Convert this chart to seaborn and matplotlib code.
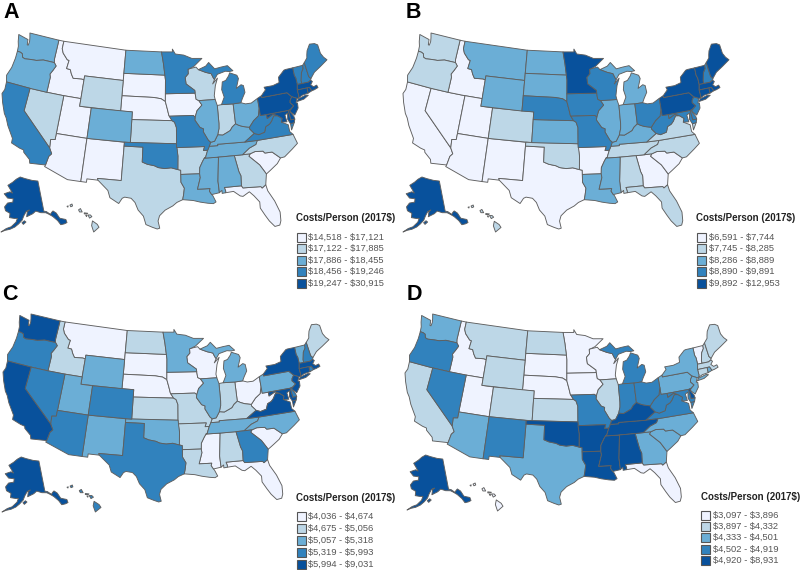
import numpy as np
import pandas as pd
import matplotlib
matplotlib.use('Agg')
import matplotlib.pyplot as plt
from matplotlib.patches import Rectangle
import seaborn as sns

# rough state outlines in lon/lat, each state is a list of rings
OUTLINES = {
    'WA': [[(-124.7,48.4),(-123.1,48.15),(-122.75,48.1),(-122.6,47.4),(-122.4,47.4),(-122.35,47.9),(-122.5,48.4),(-122.75,49.0),(-117.03,49.0),(-117.04,46.42),(-116.92,45.99),(-118.98,46.0),(-119.3,45.93),(-120.2,45.73),(-121.2,45.67),(-122.3,45.55),(-122.76,45.65),(-123.0,46.1),(-123.4,46.22),(-124.0,46.25),(-124.1,46.9),(-124.4,47.5)]],
    'OR': [[(-124.0,46.25),(-123.4,46.22),(-123.0,46.1),(-122.76,45.65),(-122.3,45.55),(-121.2,45.67),(-120.2,45.73),(-119.3,45.93),(-118.98,46.0),(-116.92,45.99),(-116.46,45.6),(-116.85,44.95),(-117.22,44.4),(-117.03,44.0),(-117.03,42.0),(-120.0,42.0),(-124.21,42.0),(-124.55,42.84),(-124.1,44.0),(-123.96,45.3)]],
    'CA': [[(-124.21,42.0),(-120.0,42.0),(-120.0,39.0),(-114.63,35.0),(-114.14,34.3),(-114.5,33.9),(-114.72,32.72),(-117.12,32.53),(-117.3,33.0),(-118.4,33.75),(-118.5,34.03),(-119.2,34.15),(-120.6,34.55),(-120.65,35.15),(-121.9,36.6),(-122.5,37.5),(-123.0,38.0),(-123.8,39.3),(-124.35,40.4),(-124.1,41.0)]],
    'NV': [[(-120.0,42.0),(-117.03,42.0),(-114.04,42.0),(-114.04,36.2),(-114.74,36.1),(-114.63,35.0),(-120.0,39.0)]],
    'ID': [[(-117.03,49.0),(-116.05,49.0),(-116.05,48.0),(-115.7,47.45),(-114.7,46.7),(-114.35,46.65),(-114.5,45.55),(-113.8,45.5),(-113.45,44.95),(-113.0,44.45),(-111.5,44.55),(-111.05,44.48),(-111.05,42.0),(-114.04,42.0),(-117.03,42.0),(-117.03,44.0),(-117.22,44.4),(-116.85,44.95),(-116.46,45.6),(-116.92,45.99),(-117.04,46.42)]],
    'MT': [[(-116.05,49.0),(-104.05,49.0),(-104.05,45.0),(-111.05,45.0),(-111.05,44.48),(-111.5,44.55),(-113.0,44.45),(-113.45,44.95),(-113.8,45.5),(-114.5,45.55),(-114.35,46.65),(-114.7,46.7),(-115.7,47.45),(-116.05,48.0)]],
    'WY': [[(-111.05,45.0),(-104.05,45.0),(-104.05,41.0),(-111.05,41.0)]],
    'UT': [[(-114.04,42.0),(-111.05,42.0),(-111.05,41.0),(-109.05,41.0),(-109.05,37.0),(-114.04,37.0)]],
    'CO': [[(-109.05,41.0),(-102.05,41.0),(-102.05,37.0),(-109.05,37.0)]],
    'AZ': [[(-114.04,37.0),(-109.05,37.0),(-109.05,31.33),(-111.07,31.33),(-114.81,32.5),(-114.72,32.72),(-114.5,33.9),(-114.14,34.3),(-114.63,35.0),(-114.74,36.1),(-114.04,36.2)]],
    'NM': [[(-109.05,37.0),(-103.0,37.0),(-103.04,32.0),(-106.62,32.0),(-106.53,31.78),(-108.2,31.78),(-108.2,31.33),(-109.05,31.33)]],
    'ND': [[(-104.05,49.0),(-97.23,49.0),(-96.85,47.5),(-96.56,45.94),(-104.05,45.94)]],
    'SD': [[(-104.05,45.94),(-96.56,45.94),(-96.45,45.3),(-96.45,43.5),(-96.45,42.49),(-97.2,42.85),(-98.5,43.0),(-104.05,43.0)]],
    'NE': [[(-104.05,43.0),(-98.5,43.0),(-97.2,42.85),(-96.45,42.49),(-96.1,41.5),(-95.85,40.7),(-95.31,40.0),(-102.05,40.0),(-102.05,41.0),(-104.05,41.0)]],
    'KS': [[(-102.05,40.0),(-95.31,40.0),(-94.9,39.8),(-94.6,39.1),(-94.62,37.0),(-102.05,37.0)]],
    'OK': [[(-103.0,37.0),(-94.62,37.0),(-94.43,35.4),(-94.48,33.64),(-95.5,33.88),(-96.5,33.78),(-97.5,33.9),(-98.1,34.13),(-99.2,34.3),(-100.0,34.56),(-100.0,36.5),(-103.0,36.5)]],
    'TX': [[(-103.04,32.0),(-103.0,36.5),(-100.0,36.5),(-100.0,34.56),(-99.2,34.3),(-98.1,34.13),(-97.5,33.9),(-96.5,33.78),(-95.5,33.88),(-94.48,33.64),(-94.04,33.55),(-94.04,33.0),(-94.04,31.99),(-93.55,31.2),(-93.7,30.3),(-93.84,29.7),(-94.7,29.35),(-95.3,28.9),(-96.4,28.35),(-97.2,27.6),(-97.4,26.9),(-97.15,25.96),(-97.5,25.85),(-98.2,26.07),(-99.1,26.4),(-99.5,27.5),(-100.3,28.28),(-100.8,29.25),(-101.4,29.77),(-102.35,29.87),(-102.7,29.7),(-103.15,28.98),(-104.5,29.65),(-104.9,30.57),(-106.53,31.78),(-106.62,32.0)]],
    'MN': [[(-97.23,49.0),(-95.15,49.0),(-95.15,49.38),(-94.6,48.72),(-93.0,48.55),(-91.5,48.07),(-89.6,48.0),(-91.2,47.0),(-92.05,46.72),(-92.3,46.66),(-92.29,46.07),(-92.87,45.6),(-92.75,44.75),(-91.25,43.85),(-91.22,43.5),(-96.45,43.5),(-96.45,45.3),(-96.56,45.94),(-96.85,47.5)]],
    'IA': [[(-96.45,43.5),(-91.22,43.5),(-91.1,42.7),(-90.64,42.5),(-90.15,41.9),(-91.05,41.2),(-91.42,40.38),(-91.73,40.61),(-95.77,40.58),(-95.85,40.7),(-96.1,41.5),(-96.45,42.49)]],
    'MO': [[(-95.77,40.58),(-91.73,40.61),(-91.42,40.38),(-91.5,40.0),(-90.7,39.0),(-90.15,38.8),(-90.2,38.4),(-89.5,37.3),(-89.15,37.0),(-89.4,36.5),(-89.7,36.0),(-90.37,36.0),(-90.15,36.5),(-94.62,36.5),(-94.62,37.0),(-94.6,39.1),(-94.9,39.8),(-95.31,40.0)]],
    'AR': [[(-94.62,36.5),(-90.15,36.5),(-90.37,36.0),(-89.7,36.0),(-90.1,35.1),(-90.3,35.0),(-90.6,34.6),(-91.1,33.8),(-91.17,33.0),(-94.04,33.0),(-94.04,33.55),(-94.48,33.64),(-94.43,35.4)]],
    'LA': [[(-94.04,33.0),(-91.17,33.0),(-91.1,32.5),(-91.6,31.0),(-89.73,31.0),(-89.85,30.67),(-89.55,30.2),(-89.4,30.05),(-89.0,29.2),(-89.4,29.0),(-90.2,29.1),(-91.3,29.3),(-92.3,29.55),(-93.84,29.7),(-93.7,30.3),(-93.55,31.2),(-94.04,31.99)]],
    'MS': [[(-91.17,33.0),(-91.1,33.8),(-90.6,34.6),(-90.3,35.0),(-88.2,35.0),(-88.1,34.9),(-88.47,31.9),(-88.4,30.37),(-89.55,30.2),(-89.85,30.67),(-89.73,31.0),(-91.6,31.0),(-91.1,32.5)]],
    'TN': [[(-90.3,35.0),(-90.1,35.1),(-89.7,36.0),(-89.4,36.5),(-88.05,36.5),(-88.05,36.68),(-83.68,36.6),(-81.68,36.59),(-82.0,36.1),(-83.1,35.75),(-84.32,35.0),(-85.6,35.0),(-88.2,35.0)]],
    'KY': [[(-89.4,36.5),(-89.15,37.0),(-88.5,37.1),(-87.9,37.9),(-87.1,37.8),(-86.3,38.1),(-85.8,38.3),(-85.4,38.73),(-84.8,39.1),(-84.3,38.85),(-83.65,38.63),(-82.6,38.42),(-82.6,38.2),(-81.97,37.54),(-83.68,36.6),(-88.05,36.68),(-88.05,36.5)]],
    'AL': [[(-88.2,35.0),(-85.6,35.0),(-85.18,32.87),(-84.95,32.3),(-85.05,31.0),(-87.6,31.0),(-87.45,30.5),(-87.5,30.3),(-88.0,30.25),(-88.0,30.65),(-88.4,30.37),(-88.47,31.9),(-88.1,34.9)]],
    'GA': [[(-85.6,35.0),(-84.32,35.0),(-83.1,35.0),(-83.35,34.7),(-81.9,33.4),(-81.4,32.6),(-81.1,32.1),(-81.45,30.72),(-82.05,30.37),(-82.2,30.57),(-84.86,30.7),(-85.05,31.0),(-84.95,32.3),(-85.18,32.87)]],
    'FL': [[(-87.6,31.0),(-85.05,31.0),(-84.86,30.7),(-82.2,30.57),(-82.05,30.37),(-81.45,30.72),(-81.3,29.9),(-80.55,28.45),(-80.05,26.9),(-80.15,25.75),(-80.4,25.2),(-81.1,25.12),(-81.75,25.95),(-82.2,26.75),(-82.75,27.8),(-82.7,28.6),(-83.4,29.5),(-84.0,30.1),(-85.0,29.6),(-85.4,29.7),(-86.3,30.38),(-87.5,30.3),(-87.45,30.5)]],
    'SC': [[(-83.35,34.7),(-83.1,35.0),(-82.3,35.2),(-81.05,35.1),(-80.8,34.82),(-79.67,34.8),(-78.55,33.86),(-79.2,33.2),(-80.4,32.5),(-81.1,32.1),(-81.4,32.6),(-81.9,33.4)]],
    'NC': [[(-84.32,35.0),(-83.1,35.75),(-82.0,36.1),(-81.68,36.59),(-75.87,36.55),(-75.5,35.3),(-76.5,34.7),(-77.9,33.9),(-78.55,33.86),(-79.67,34.8),(-80.8,34.82),(-81.05,35.1),(-82.3,35.2),(-83.1,35.0)]],
    'VA': [[(-83.68,36.6),(-81.97,37.54),(-81.3,37.3),(-80.3,37.5),(-79.95,38.2),(-79.3,38.42),(-78.87,38.76),(-78.35,39.4),(-77.72,39.32),(-77.05,38.85),(-77.3,38.4),(-76.3,37.9),(-76.3,37.0),(-75.87,36.55),(-81.68,36.59)],
           [(-75.9,37.95),(-75.25,38.03),(-75.95,37.15)]],
    'WV': [[(-81.97,37.54),(-82.6,38.2),(-82.6,38.42),(-81.75,39.2),(-80.87,39.7),(-80.52,40.64),(-80.52,39.72),(-79.48,39.72),(-79.48,39.2),(-78.4,39.62),(-77.72,39.32),(-78.35,39.4),(-78.87,38.76),(-79.3,38.42),(-79.95,38.2),(-80.3,37.5),(-81.3,37.3)]],
    'MD': [[(-79.48,39.72),(-75.79,39.72),(-75.7,38.46),(-75.05,38.45),(-75.25,38.03),(-75.9,37.95),(-76.2,38.6),(-76.0,39.4),(-76.5,39.2),(-76.4,38.3),(-77.3,38.4),(-77.05,38.85),(-77.72,39.32),(-78.4,39.62),(-79.48,39.2)]],
    'DE': [[(-75.79,39.72),(-75.4,39.8),(-75.55,39.5),(-75.1,38.8),(-75.05,38.45),(-75.7,38.46)]],
    'PA': [[(-80.52,41.98),(-79.76,42.25),(-79.76,42.0),(-75.35,42.0),(-74.7,41.36),(-75.1,40.95),(-75.2,40.65),(-74.72,40.15),(-75.4,39.8),(-75.79,39.72),(-79.48,39.72),(-80.52,39.72),(-80.52,40.64)]],
    'NY': [[(-79.76,42.0),(-79.76,42.25),(-78.9,42.9),(-79.05,43.27),(-77.5,43.27),(-76.3,43.5),(-76.2,44.2),(-75.0,44.95),(-74.7,45.0),(-73.35,45.0),(-73.4,44.0),(-73.25,43.6),(-73.27,42.75),(-73.5,42.05),(-73.5,41.3),(-73.65,41.0),(-73.9,41.0),(-74.7,41.36),(-75.35,42.0)],
           [(-74.0,40.6),(-73.7,40.9),(-72.3,41.15),(-71.9,41.05),(-72.8,40.7)]],
    'NJ': [[(-74.7,41.36),(-73.9,41.0),(-74.25,40.45),(-74.0,40.4),(-74.1,39.75),(-74.9,38.95),(-75.4,39.4),(-75.55,39.63),(-74.72,40.15),(-75.2,40.65),(-75.1,40.95)]],
    'VT': [[(-73.35,45.0),(-71.5,45.01),(-71.55,44.6),(-72.05,44.1),(-72.45,43.1),(-72.46,42.73),(-73.27,42.75),(-73.25,43.6),(-73.4,44.0)]],
    'NH': [[(-71.5,45.01),(-71.08,45.3),(-70.98,43.4),(-70.7,43.07),(-70.82,42.87),(-71.3,42.7),(-72.46,42.73),(-72.45,43.1),(-72.05,44.1),(-71.55,44.6)]],
    'ME': [[(-71.08,45.3),(-70.4,45.8),(-70.25,46.2),(-70.0,46.7),(-69.22,47.46),(-68.3,47.35),(-67.8,47.07),(-67.78,45.9),(-67.45,45.3),(-67.0,44.85),(-68.5,44.25),(-69.8,43.75),(-70.7,43.07),(-70.98,43.4)]],
    'MA': [[(-73.5,42.05),(-73.27,42.75),(-72.46,42.73),(-71.3,42.7),(-70.82,42.87),(-70.6,42.65),(-71.03,42.3),(-70.65,41.95),(-70.05,42.05),(-69.95,41.7),(-70.65,41.55),(-71.13,41.5),(-71.38,42.02),(-71.8,42.02)]],
    'RI': [[(-71.8,42.02),(-71.38,42.02),(-71.13,41.5),(-71.85,41.32)]],
    'CT': [[(-73.5,42.05),(-71.8,42.02),(-71.85,41.32),(-72.9,41.25),(-73.65,41.0),(-73.5,41.3)]],
    'MI': [[(-86.8,41.76),(-84.8,41.7),(-83.45,41.73),(-83.1,42.25),(-82.5,43.0),(-82.6,43.9),(-83.0,44.05),(-83.9,43.65),(-83.3,44.9),(-83.5,45.35),(-84.75,45.78),(-85.0,45.4),(-85.6,44.85),(-86.25,44.7),(-86.5,43.7),(-86.2,42.7)],
           [(-90.4,46.55),(-89.1,46.13),(-88.1,45.9),(-87.8,45.35),(-87.6,45.1),(-87.0,45.75),(-85.5,46.05),(-84.75,45.95),(-84.1,46.0),(-84.7,46.5),(-85.0,46.75),(-86.2,46.65),(-87.4,46.5),(-88.4,47.4),(-89.0,46.95)]],
    'WI': [[(-92.05,46.72),(-90.8,46.9),(-90.4,46.55),(-89.1,46.13),(-88.1,45.9),(-87.8,45.35),(-87.6,45.1),(-88.0,44.55),(-87.05,45.25),(-87.55,44.3),(-87.9,43.0),(-87.8,42.5),(-90.64,42.5),(-91.1,42.7),(-91.22,43.5),(-91.25,43.85),(-92.75,44.75),(-92.87,45.6),(-92.29,46.07),(-92.3,46.66)]],
    'IL': [[(-90.64,42.5),(-87.8,42.5),(-87.53,41.7),(-87.53,39.35),(-87.6,38.7),(-87.9,37.9),(-88.5,37.1),(-89.15,37.0),(-89.5,37.3),(-90.2,38.4),(-90.15,38.8),(-90.7,39.0),(-91.5,40.0),(-91.42,40.38),(-91.05,41.2),(-90.15,41.9)]],
    'IN': [[(-87.53,41.7),(-86.8,41.76),(-84.8,41.7),(-84.8,39.1),(-85.4,38.73),(-85.8,38.3),(-86.3,38.1),(-87.1,37.8),(-87.9,37.9),(-87.6,38.7),(-87.53,39.35)]],
    'OH': [[(-84.8,41.7),(-83.45,41.73),(-82.7,41.5),(-81.7,41.5),(-80.52,41.98),(-80.52,40.64),(-80.87,39.7),(-81.75,39.2),(-82.6,38.42),(-83.65,38.63),(-84.3,38.85),(-84.8,39.1)]],
}
ALASKA = [[(-141,69.65),(-141,60.3),(-139.5,60.0),(-137.5,58.9),(-136.5,59.4),(-135.5,59.7),(-134,58.8),(-133,57),(-131.8,56.6),(-130,56),(-130,55),(-131.5,54.9),(-133.5,55),(-134.5,56.5),(-136.5,58.1),(-138.5,59.1),(-140,59.7),(-143,60),(-146,60.7),(-148,60),(-149.5,59.7),(-151.8,59.2),(-151.3,60.7),(-150,61.2),(-152,60.8),(-153.5,59.5),(-154.5,58.2),(-156.5,57),(-158.5,56),(-161,55.2),(-163.5,54.7),(-165.5,54.0),(-163,55.3),(-160.5,56),(-158,57.5),(-157.3,58.7),(-159,58.6),(-162,58.7),(-162,60),(-165,60.6),(-166,61.7),(-164.5,63),(-161,63.5),(-161,64.5),(-165,64.5),(-168,65.6),(-164,66.5),(-162,66.2),(-163.7,67.1),(-166.5,68.35),(-163,69.5),(-160,70.6),(-156.6,71.35),(-152,70.85),(-146,70.15)],
          [(-154.6,57.4),(-153.2,58.0),(-152.3,57.6),(-153.8,56.9)]]
HAWAII = [[(-155.9,20.25),(-155.1,19.85),(-154.8,19.5),(-155.7,18.95),(-156.05,19.7)],
          [(-156.7,20.95),(-156.25,20.95),(-156.0,20.75),(-156.4,20.58),(-156.55,20.8)],
          [(-157.3,21.2),(-156.7,21.15),(-156.9,21.05),(-157.3,21.08)],
          [(-157.05,20.9),(-156.85,20.9),(-156.9,20.75)],
          [(-158.27,21.55),(-157.95,21.7),(-157.65,21.3),(-158.1,21.3)],
          [(-159.75,22.1),(-159.4,22.23),(-159.3,22.0),(-159.6,21.9)],
          [(-160.25,21.95),(-160.05,22.0),(-160.1,21.85)]]

state_names = ['WA','OR','CA','NV','ID','MT','WY','UT','AZ','CO','NM','ND','SD','NE','KS','OK','TX','MN','IA','MO','AR','LA',
               'WI','IL','MI','IN','OH','KY','TN','MS','AL','GA','FL','SC','NC','VA','WV','PA','NY','ME','NH','VT','MA','RI','CT','NJ','DE','MD','AK','HI']
# cost class (0 lowest .. 4 highest) of each state in state_names
class_a = [2,2,3,1,0,0,1,0,0,2,0,2,0,0,1,3,1,3,0,3,1,2,1,2,3,1,2,2,2,2,2,1,0,0,1,3,3,4,4,3,3,3,4,4,4,4,4,4,4,1]
class_b = [1,1,0,0,0,2,2,0,0,1,0,2,2,3,2,1,0,4,3,3,0,2,3,2,2,2,3,2,1,2,1,0,1,0,1,1,3,4,4,4,3,4,4,4,4,3,3,3,4,1]
class_c = [4,3,4,3,1,0,2,2,3,3,2,1,0,0,1,2,3,2,0,1,1,1,0,2,2,1,0,1,2,0,1,3,0,0,2,4,0,2,4,1,3,2,4,3,4,4,3,4,4,3]
class_d = [2,3,1,3,0,1,1,0,2,1,3,1,0,0,1,4,2,0,0,3,4,4,0,1,3,3,3,4,4,4,4,2,0,2,2,3,3,2,2,1,1,0,1,2,1,2,4,3,4,0]

labels_a = [r'\$14,518 - \$17,121', r'\$17,122 - \$17,885', r'\$17,886 - \$18,455', r'\$18,456 - \$19,246', r'\$19,247 - \$30,915']
labels_b = [r'\$6,591 - \$7,744', r'\$7,745 - \$8,285', r'\$8,286 - \$8,889', r'\$8,890 - \$9,891', r'\$9,892 - \$12,953']
labels_c = [r'\$4,036 - \$4,674', r'\$4,675 - \$5,056', r'\$5,057 - \$5,318', r'\$5,319 - \$5,993', r'\$5,994 - \$9,031']
labels_d = [r'\$3,097 - \$3,896', r'\$3,897 - \$4,332', r'\$4,333 - \$4,501', r'\$4,502 - \$4,919', r'\$4,920 - \$8,931']

legend_title = r'Costs/Person (2017\$)'
blues = sns.color_palette(['#eff3ff', '#bdd7e7', '#6baed6', '#3182bd', '#08519c'])

# pixel boxes (left, right, top, bottom) for the maps, plus legend and letter placement
LAYOUT = {
    'A': dict(main=(2, 327, 33, 229), ak=(1, 67, 177, 232), hi=(67, 99, 204, 232),
              letter=(3, 18), title=(296, 218), box_x=297, text_x=308, rows=(237, 248.5, 260, 271.5, 283)),
    'B': dict(main=(403, 729, 33, 229), ak=(403, 468, 177, 232), hi=(468, 501, 205, 232),
              letter=(406, 18), title=(696, 218), box_x=697, text_x=709, rows=(237, 248.5, 260, 271.5, 283)),
    'C': dict(main=(3, 329, 314, 502), ak=(2, 68, 457, 512), hi=(67, 101, 485, 512),
              letter=(2, 300), title=(296, 498), box_x=297, text_x=308, rows=(516.7, 528.3, 540, 552.3, 564.3)),
    'D': dict(main=(405, 727, 314, 505), ak=(407, 471, 455, 510), hi=(470, 503, 483, 511),
              letter=(407, 300), title=(701, 497), box_x=701, text_x=713, rows=(515, 526, 537.3, 549, 560.3)),
}
W, H = 800, 570


def albers(lon, lat, lon0, lat0, p1, p2):
    """Albers equal area, sphere version is plenty here."""
    lon, lat = np.radians(lon), np.radians(lat)
    lon0, lat0, p1, p2 = np.radians([lon0, lat0, p1, p2])
    n = (np.sin(p1) + np.sin(p2)) / 2
    c = np.cos(p1) ** 2 + 2 * n * np.sin(p1)
    rho = np.sqrt(c - 2 * n * np.sin(lat)) / n
    rho0 = np.sqrt(c - 2 * n * np.sin(lat0)) / n
    theta = n * (lon - lon0)
    return rho * np.sin(theta), rho0 - rho * np.cos(theta)


def project_rings(rings, params):
    out = []
    for ring in rings:
        arr = np.array(ring, dtype=float)
        out.append(np.column_stack(albers(arr[:, 0], arr[:, 1], *params)))
    return out


def draw_region(fig, box, shapes):
    """One axes per map piece, its limits are the bounding box of the shapes."""
    left, right, top, bottom = box
    ax = fig.add_axes([left / W, 1 - bottom / H, (right - left) / W, (bottom - top) / H])
    for rings, color in shapes:
        for ring in rings:
            ax.fill(ring[:, 0], ring[:, 1], facecolor=color, edgecolor='#5f5f5f', linewidth=0.65,
                    clip_on=False, joinstyle='round')
    pts = np.vstack([r for rings, _ in shapes for r in rings])
    ax.set_xlim(pts[:, 0].min(), pts[:, 0].max())
    ax.set_ylim(pts[:, 1].min(), pts[:, 1].max())
    ax.set_xticks([])
    ax.set_yticks([])
    ax.patch.set_alpha(0)
    sns.despine(ax=ax, left=True, bottom=True)
    return ax


def draw_panel(fig, overlay, letter, classes, labels):
    lay = LAYOUT[letter]
    lookup = dict(zip(state_names, classes))
    lower48 = [(project_rings(rings, (-96, 37.5, 29.5, 45.5)), blues[lookup[st]])
               for st, rings in OUTLINES.items()]
    # lightest first so dark outlines stay on top
    lower48.sort(key=lambda s: blues.index(s[1]))
    draw_region(fig, lay['main'], lower48)
    draw_region(fig, lay['ak'], [(project_rings(ALASKA, (-154, 50, 55, 65)), blues[lookup['AK']])])
    draw_region(fig, lay['hi'], [(project_rings(HAWAII, (-157, 20, 8, 18)), blues[lookup['HI']])])

    overlay.text(lay['letter'][0], lay['letter'][1], letter, fontsize=15.5, fontweight='bold',
                 color='black', ha='left', va='baseline')
    overlay.text(lay['title'][0], lay['title'][1], legend_title, fontsize=7.0, fontweight='bold',
                 color='#222222', ha='left', va='center')
    for i, label in enumerate(labels):
        y = lay['rows'][i]
        overlay.add_patch(Rectangle((lay['box_x'], y - 4.5), 9, 9, facecolor=blues[i],
                                    edgecolor='#555555', linewidth=0.8))
        overlay.text(lay['text_x'], y, label, fontsize=6.75, color='#555555', ha='left', va='center')


sns.set_theme(style='white')
plt.rcParams['font.family'] = ['Liberation Sans', 'DejaVu Sans']

fig = plt.figure(figsize=(8, 5.7), dpi=100)
overlay = fig.add_axes([0, 0, 1, 1], zorder=5)
overlay.set_xlim(0, W)
overlay.set_ylim(H, 0)
overlay.axis('off')

panel_classes = pd.DataFrame({'A': class_a, 'B': class_b, 'C': class_c, 'D': class_d}, index=state_names)
panel_labels = {'A': labels_a, 'B': labels_b, 'C': labels_c, 'D': labels_d}
for letter in panel_classes.columns:
    draw_panel(fig, overlay, letter, panel_classes[letter].tolist(), panel_labels[letter])

fig.savefig('out.png', dpi=100, facecolor='white')
